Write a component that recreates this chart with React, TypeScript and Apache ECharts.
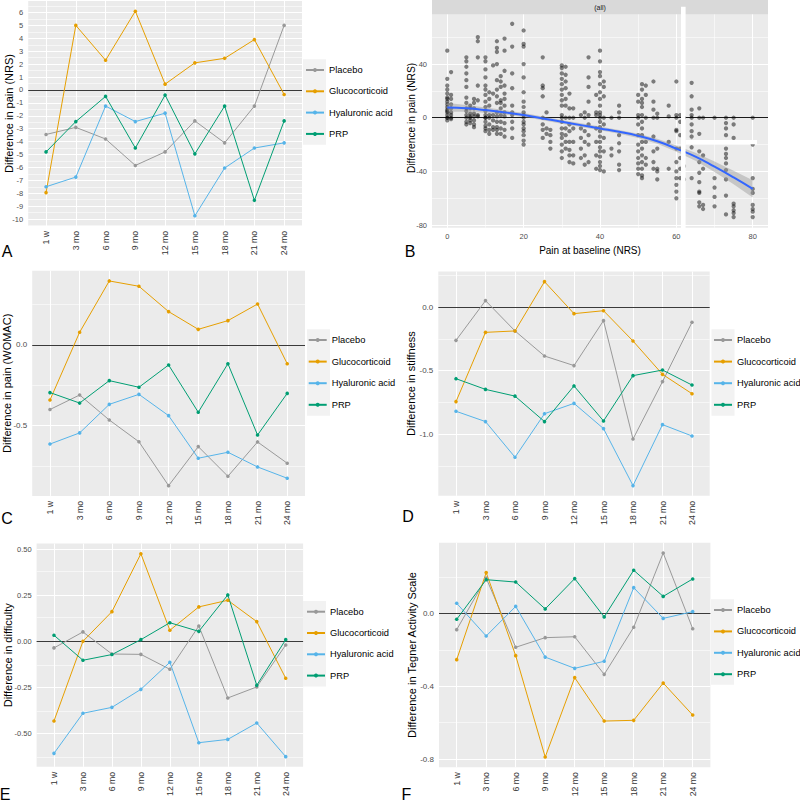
import React, { useEffect, useRef } from 'react';
import * as echarts from 'echarts';

const FONT = '"Liberation Sans", Arial, sans-serif';
const PANEL_BG = '#ebebeb';

const timepoints = ['1 w', '3 mo', '6 mo', '9 mo', '12 mo', '15 mo', '18 mo', '21 mo', '24 mo'];
const groups = ['Placebo', 'Glucocorticoid', 'Hyaluronic acid', 'PRP'];
const groupColors = ['#999999', '#E69F00', '#56B4E9', '#009E73'];

// A: Difference in pain (NRS)
const nrsPlacebo = [-3.45, -2.9, -3.8, -5.85, -4.8, -2.4, -4.1, -1.25, 5.0];
const nrsGluco = [-7.95, 5.0, 2.3, 6.1, 0.45, 2.1, 2.45, 3.9, -0.35];
const nrsHyaluronic = [-7.5, -6.75, -1.25, -2.45, -1.8, -9.75, -6.05, -4.5, -4.1];
const nrsPRP = [-4.8, -2.45, -0.5, -4.5, -0.4, -4.95, -1.25, -8.55, -2.4];
const nrsTicks = [-10, -9, -8, -7, -6, -5, -4, -3, -2, -1, 0, 1, 2, 3, 4, 5, 6];

// C: Difference in pain (WOMAC)
const womacPlacebo = [-0.4, -0.31, -0.465, -0.6, -0.872, -0.63, -0.814, -0.601, -0.733];
const womacGluco = [-0.341, 0.079, 0.397, 0.364, 0.207, 0.097, 0.151, 0.254, -0.116];
const womacHyaluronic = [-0.614, -0.545, -0.368, -0.306, -0.438, -0.702, -0.665, -0.756, -0.826];
const womacPRP = [-0.295, -0.36, -0.221, -0.262, -0.124, -0.417, -0.116, -0.558, -0.3];
const womacTicks = [-0.5, 0];

// D: Difference in stiffness
const stiffPlacebo = [-0.262, 0.05, -0.188, -0.385, -0.46, -0.107, -1.037, -0.586, -0.12];
const stiffGluco = [-0.743, -0.199, -0.188, 0.199, -0.052, -0.029, -0.267, -0.529, -0.681];
const stiffHyaluronic = [-0.819, -0.9, -1.18, -0.838, -0.757, -0.955, -1.403, -0.924, -1.013];
const stiffPRP = [-0.563, -0.647, -0.7, -0.9, -0.62, -0.895, -0.539, -0.495, -0.613];
const stiffTicks = [-1, -0.5, 0];

// E: Difference in difficulty
const diffPlacebo = [-0.036, 0.051, -0.069, -0.071, -0.152, 0.083, -0.308, -0.248, -0.02];
const diffGluco = [-0.433, 0.0, 0.161, 0.476, 0.06, 0.187, 0.223, 0.107, -0.201];
const diffHyaluronic = [-0.609, -0.391, -0.359, -0.261, -0.114, -0.551, -0.533, -0.444, -0.627];
const diffPRP = [0.033, -0.103, -0.072, 0.009, 0.101, 0.054, 0.252, -0.239, 0.009];
const diffTicks = [-0.5, -0.25, 0, 0.25, 0.5];

// F: Difference in Tegner Activity Scale
const tegnerPlacebo = [-0.088, 0.196, -0.185, -0.132, -0.127, -0.334, -0.075, 0.334, -0.083];
const tegnerGluco = [-0.253, 0.226, -0.231, -0.789, -0.352, -0.591, -0.587, -0.382, -0.558];
const tegnerHyaluronic = [0.057, -0.123, 0.04, -0.239, -0.301, -0.262, 0.143, -0.026, 0.011];
const tegnerPRP = [-0.031, 0.187, 0.174, 0.026, 0.193, -0.018, 0.239, 0.095, 0.191];
const tegnerTicks = [-0.8, -0.4, 0];

// B: scatter of change vs baseline pain
const baselinePain = [0, 1, 5, 6, 7, 8, 10, 11, 12, 13, 14, 15, 17, 20, 25, 26, 27, 30, 31, 32, 33, 35, 36, 37, 39, 40, 41, 43, 45, 50, 51, 52, 54, 55, 58, 60, 61, 62, 64, 66, 67, 70, 73, 75, 80];
const painChange = [
  [50, 29, 24, 21, 18, 15, 14, 12, 10, 8, 6, 5, 4, 2, 0, 0, -2],
  [34, 17, 14, 10, 7, 4, 2, 0, -1],
  [45, 42, 38, 33, 28, 23, 15, 11, 7, 5, 2, 0, -3, -5],
  [9, 7, 3, 1, 0, -2, -4],
  [14, 11, 7, 3, 1, -2, -5, -7],
  [60, 57, 45, 24, 13, 2, 1],
  [45, 42, 36, 30, 24, 21, 17, 12, 8, 5, 2, 0, 0, -3, -6, -8, -10],
  [19, 14, 9, 2, 0, -5, -9, -12],
  [39, 18, 2, -2, -7, -9],
  [57, 52, 49, 40, 28, 21, 16, 11, 4, 1, -3, -7, -9, -12],
  [31, 27, 23, 13, 11, 7, 2, -3, -8, -12],
  [59, 50, 35, 24, 18, 14, 9, 4, 1, -4, -9, -14],
  [70, 53, 33, 22, 9, 4, 2, -3, -8, -15],
  [65, 55, 53, 40, 30, 19, 12, 8, 4, 2, 0, -3, -5, -8, -10, -13, -17, -20],
  [45, 24, 22, 16, 0, -5, -9, -15],
  [4, -8, -12],
  [-9, -13, -18, -23],
  [39, 37, 33, 29, 25, 21, 17, 13, 9, 2, 0, -3, -8, -12, -15, -20, -25, -30],
  [38, 32, 27, 22, 14, 9, 0, -8, -13, -18, -23],
  [18, 7, 0, -5, -10, -18, -24, -28, -33],
  [7, 0, -8, -18, -28, -34],
  [2, -8, -15, -23, -30],
  [4, 0, -10, -18, -28, -35],
  [45, 30, 23, 12, 2, -5, -13, -20, -33],
  [17, 4, 2, -8, -18, -28, -38],
  [50, 42, 34, 31, 25, 19, 14, 9, 4, 2, 0, -3, -7, -10, -14, -18, -22, -25, -29, -33, -36, -39],
  [27, 23, 16, 0, -5, -15, -25, -40],
  [0, -23, -28],
  [9, 4, 0, -13, -19, -25, -35, -39],
  [17, 12, 2, 0, -5, -13, -20, -25, -30, -34, -38, -42],
  [25, 21, 14, 11, 8, 2, -3, -8, -13, -18, -23, -28, -33, -38, -43, -45],
  [24, 17, 0, -18, -30, -35],
  [27, 12, 6, 0, -14, -25, -33, -38],
  [3, 0, -23, -38, -40, -46],
  [9, 1, -18, -38],
  [27, 2, 0, -9, -10, -23, -33, -40, -45, -50, -55, -60],
  [2, -3, -13, -23, -30, -38, -45],
  [0, -36, -46],
  [26, 16, 6, 2, 0, -5, -10, -14, -18, -22, -45],
  [7, 0, -12, -25, -33, -41, -48, -55, -56, -63, -66],
  [0, -28, -38, -65, -68],
  [0, -45, -52, -59, -66],
  [0, -4, -8, -13, -23, -27, -30, -34, -39, -46, -58, -72],
  [0, -5, -15, -64, -66, -69, -71, -74],
  [0, -20, -45, -53, -56, -65, -68, -70, -74],
];
const fitX = [0, 5, 10, 15, 20, 25, 30, 35, 40, 45, 50, 55, 60, 65, 70, 75, 80];
const fitY = [7.7, 7, 5.7, 4, 2, -0.5, -3, -5.5, -8, -10.5, -13.5, -17.5, -23, -29, -36.5, -44.5, -53];
const fitLower = [4.5, 4.5, 3.7, 2.3, 0.5, -1.9, -4.4, -6.9, -9.4, -11.9, -15, -19.3, -25.3, -32, -40.4, -49.5, -59.5];
const fitUpper = [10.9, 9.5, 7.7, 5.7, 3.5, 0.9, -1.6, -4.1, -6.6, -9.1, -12, -15.7, -20.7, -26, -32.6, -39.5, -46.5];
const baselineTicks = [0, 20, 40, 60, 80];
const changeTicks = [-80, -40, 0, 40];

function minorBetween(major: number[], min: number, max: number) {
  const out: number[] = [];
  if (major.length < 2) return out;
  const step = major[1] - major[0];
  const cands = [major[0] - step / 2, ...major.map((m) => m + step / 2)];
  for (const c of cands) if (c > min + 1e-9 && c < max - 1e-9) out.push(+c.toFixed(6));
  return out;
}

function gridMarkLine(xMajor: number[], xMinor: number[], yMajor: number[], yMinor: number[], zeroColor: string) {
  const major = { color: '#ffffff', width: 1.1, type: 'solid' };
  const minor = { color: '#ffffff', width: 0.55, type: 'solid' };
  return {
    silent: true,
    symbol: ['none', 'none'],
    label: { show: false },
    emphasis: { disabled: true },
    animation: false,
    z: 1,
    data: [
      ...yMinor.map((v) => ({ yAxis: v, lineStyle: minor })),
      ...xMinor.map((v) => ({ xAxis: v, lineStyle: minor })),
      ...yMajor.map((v) => ({ yAxis: v, lineStyle: major })),
      ...xMajor.map((v) => ({ xAxis: v, lineStyle: major })),
      { yAxis: 0, lineStyle: { color: zeroColor, width: 1.1, type: 'solid' } },
    ],
  };
}

const linePanels = [
  { grid: { left: 28.2, top: 1, width: 273.8, height: 225 }, yMin: -10.54, yMax: 6.89, ticks: nrsTicks, dec: 0, ySize: 7.5,
    values: [nrsPlacebo, nrsGluco, nrsHyaluronic, nrsPRP] },
  { grid: { left: 32.2, top: 270.7, width: 272.8, height: 225.2 }, yMin: -0.9355, yMax: 0.4605, ticks: womacTicks, dec: 1, ySize: 8,
    values: [womacPlacebo, womacGluco, womacHyaluronic, womacPRP] },
  { grid: { left: 438.3, top: 271.5, width: 271.4, height: 224.3 }, yMin: -1.483, yMax: 0.279, ticks: stiffTicks, dec: 1, ySize: 8,
    values: [stiffPlacebo, stiffGluco, stiffHyaluronic, stiffPRP] },
  { grid: { left: 36.6, top: 543.6, width: 266.5, height: 223.2 }, yMin: -0.682, yMax: 0.531, ticks: diffTicks, dec: 2, ySize: 7.5,
    values: [diffPlacebo, diffGluco, diffHyaluronic, diffPRP] },
  { grid: { left: 439, top: 542.8, width: 271.4, height: 224.4 }, yMin: -0.845, yMax: 0.39, ticks: tegnerTicks, dec: 1, ySize: 8,
    values: [tegnerPlacebo, tegnerGluco, tegnerHyaluronic, tegnerPRP] },
];

const legendPos = [
  { left: 305, top: 63, gap: 7.3 },
  { left: 307.7, top: 333, gap: 7.6 },
  { left: 713, top: 333, gap: 7.6 },
  { left: 306, top: 604.7, gap: 7.3 },
  { left: 713, top: 603, gap: 7.4 },
];
const keyBoxes = [
  [303, 59.3, 23, 85.5],
  [307, 329.3, 23, 86.5],
  [711.5, 329.3, 23, 86.5],
  [303, 601, 23, 85.5],
  [711, 599.3, 23, 85.5],
];

const yTitles = [
  { text: 'Difference in pain (NRS)', x: 9, y: 113.5, size: 11 },
  { text: 'Difference in pain (WOMAC)', x: 7, y: 383.3, size: 11 },
  { text: 'Difference in stiffness', x: 410.5, y: 383.6, size: 11 },
  { text: 'Difference in difficulty', x: 8.3, y: 655.2, size: 11 },
  { text: 'Difference in Tegner Activity Scale', x: 411.7, y: 655, size: 11 },
  { text: 'Difference in pain (NRS)', x: 411.5, y: 118, size: 10.2 },
];
const letters = [
  { text: 'A', x: 7, y: 251 },
  { text: 'B', x: 410, y: 251 },
  { text: 'C', x: 7, y: 518 },
  { text: 'D', x: 408, y: 516.5 },
  { text: 'E', x: 5, y: 794.5 },
  { text: 'F', x: 406.5, y: 794 },
];

function buildOption() {
  const grids: any[] = [];
  const xAxes: any[] = [];
  const yAxes: any[] = [];
  const series: any[] = [];
  const catIdx = timepoints.map((_, i) => i);

  linePanels.forEach((p, i) => {
    grids.push({ ...p.grid, show: true, backgroundColor: PANEL_BG, borderWidth: 0, containLabel: false, outerBoundsMode: 'none' });
    xAxes.push({
      type: 'value', gridIndex: i, min: -0.6, max: 8.6,
      splitLine: { show: false }, axisLine: { show: false },
      axisTick: { show: true, length: 3, lineStyle: { color: '#333', width: 1 }, customValues: catIdx },
      axisLabel: {
        customValues: catIdx, rotate: 90, margin: 5, fontSize: 8.7, color: '#333', fontFamily: FONT,
        formatter: (v: number) => timepoints[Math.round(v)] ?? '',
      },
    });
    yAxes.push({
      type: 'value', gridIndex: i, min: p.yMin, max: p.yMax,
      splitLine: { show: false }, axisLine: { show: false },
      axisTick: { show: true, length: 3, lineStyle: { color: '#333', width: 1 }, customValues: p.ticks },
      axisLabel: {
        customValues: p.ticks, margin: 5, fontSize: p.ySize, color: '#4d4d4d', fontFamily: FONT,
        formatter: (v: number) => v.toFixed(p.dec),
      },
    });
    const yMinor = minorBetween(p.ticks, p.yMin, p.yMax);
    p.values.forEach((vals, g) => {
      const s: any = {
        type: 'line', name: groups[g], xAxisIndex: i, yAxisIndex: i,
        data: vals.map((v, k) => [k, v]),
        symbol: 'circle', symbolSize: 3.6, showSymbol: true,
        lineStyle: { width: 1, color: groupColors[g] },
        itemStyle: { color: groupColors[g] },
        emphasis: { disabled: true }, z: 3, animation: false,
      };
      if (g === 0) s.markLine = gridMarkLine(catIdx, [], p.ticks, yMinor, '#3a3a3a');
      series.push(s);
    });
  });

  // Panel B
  const bi = linePanels.length;
  const bGrid = { left: 432, top: 14.4, width: 336, height: 213.4 };
  const bxMin = -4, bxMax = 84, byMin = -82, byMax = 77;
  grids.push({ ...bGrid, show: true, backgroundColor: PANEL_BG, borderWidth: 0, containLabel: false, outerBoundsMode: 'none' });
  xAxes.push({
    type: 'value', gridIndex: bi, min: bxMin, max: bxMax,
    splitLine: { show: false }, axisLine: { show: false },
    axisTick: { show: true, length: 3, lineStyle: { color: '#333' }, customValues: baselineTicks },
    axisLabel: { customValues: baselineTicks, margin: 5, fontSize: 7.5, color: '#4d4d4d', fontFamily: FONT },
  });
  yAxes.push({
    type: 'value', gridIndex: bi, min: byMin, max: byMax,
    splitLine: { show: false }, axisLine: { show: false },
    axisTick: { show: true, length: 3, lineStyle: { color: '#333' }, customValues: changeTicks },
    axisLabel: { customValues: changeTicks, margin: 5, fontSize: 7.5, color: '#4d4d4d', fontFamily: FONT },
  });
  const pts: number[][] = [];
  baselinePain.forEach((x, i) => painChange[i].forEach((y) => pts.push([x, y])));
  series.push({
    type: 'scatter', name: 'obs', xAxisIndex: bi, yAxisIndex: bi, data: pts,
    symbol: 'circle', symbolSize: 4.3, itemStyle: { color: 'rgba(0,0,0,0.6)' },
    emphasis: { disabled: true }, z: 2, animation: false,
    markLine: gridMarkLine(baselineTicks, minorBetween(baselineTicks, bxMin, bxMax), changeTicks, minorBetween(changeTicks, byMin, byMax), '#1a1a1a'),
  });
  series.push({
    type: 'custom', name: 'band', xAxisIndex: bi, yAxisIndex: bi, coordinateSystem: 'cartesian2d',
    data: [[fitX[0], fitY[0]]], z: 3, silent: true, animation: false,
    renderItem: (_params: any, api: any) => {
      const up = fitX.map((x, i) => api.coord([x, fitUpper[i]]));
      const lo = fitX.map((x, i) => api.coord([x, fitLower[i]])).reverse();
      return { type: 'polygon', shape: { points: [...up, ...lo] }, style: { fill: 'rgba(153,153,153,0.45)', stroke: 'none' } };
    },
  });
  series.push({
    type: 'line', name: 'fit', xAxisIndex: bi, yAxisIndex: bi, smooth: true,
    data: fitX.map((x, i) => [x, fitY[i]]), symbol: 'none',
    lineStyle: { color: '#3366FF', width: 2 }, emphasis: { disabled: true }, z: 4, animation: false,
  });

  const graphics: any[] = [];
  keyBoxes.forEach(([x, y, w, h]) => graphics.push({ type: 'rect', shape: { x, y, width: w, height: h }, style: { fill: '#f2f2f2' }, z: 0, silent: true }));
  graphics.push({ type: 'rect', shape: { x: bGrid.left, y: 0, width: bGrid.width, height: bGrid.top }, style: { fill: '#d9d9d9' }, silent: true });
  graphics.push({ type: 'text', x: bGrid.left + bGrid.width / 2, y: 7.5, style: { text: '(all)', fontSize: 7, fontFamily: FONT, fill: '#1a1a1a', align: 'center', verticalAlign: 'middle' }, silent: true });
  graphics.push({ type: 'rect', shape: { x: 681, y: 6.7, width: 4.6, height: 221.3 }, style: { fill: '#ffffff' }, z: 50, silent: true });
  graphics.push({ type: 'rect', shape: { x: 685.5, y: 140, width: 71.5, height: 4.3 }, style: { fill: '#ffffff' }, z: 50, silent: true });
  yTitles.forEach((t) => graphics.push({
    type: 'text', x: t.x, y: t.y, rotation: Math.PI / 2,
    style: { text: t.text, fontSize: t.size, fontFamily: FONT, fill: '#000', align: 'center', verticalAlign: 'middle' }, silent: true,
  }));
  graphics.push({
    type: 'text', x: 590, y: 250,
    style: { text: 'Pain at baseline (NRS)', fontSize: 10, fontFamily: FONT, fill: '#000', align: 'center', verticalAlign: 'middle' }, silent: true,
  });
  letters.forEach((t) => graphics.push({
    type: 'text', x: t.x, y: t.y,
    style: { text: t.text, fontSize: 16, fontFamily: FONT, fill: '#000', align: 'center', verticalAlign: 'middle' }, silent: true,
  }));

  return {
    animation: false,
    backgroundColor: '#ffffff',
    textStyle: { fontFamily: FONT },
    grid: grids,
    xAxis: xAxes,
    yAxis: yAxes,
    legend: legendPos.map((p) => ({
      data: groups, orient: 'vertical', left: p.left, top: p.top, itemGap: p.gap, padding: 0,
      itemWidth: 18, itemHeight: 5, selectedMode: false,
      textStyle: { fontSize: 9.3, color: '#000', fontFamily: FONT, lineHeight: 14 },
    })),
    graphic: { elements: graphics },
    series,
  };
}

export default function App() {
  const ref = useRef<HTMLDivElement>(null);
  useEffect(() => {
    if (!ref.current) return;
    const chart = echarts.init(ref.current, undefined, { renderer: 'svg', width: 800, height: 802 });
    chart.setOption(buildOption() as any);
    return () => chart.dispose();
  }, []);
  return <div ref={ref} style={{ position: 'fixed', left: 0, top: 0, width: 800, height: 802, background: '#fff' }} />;
}
